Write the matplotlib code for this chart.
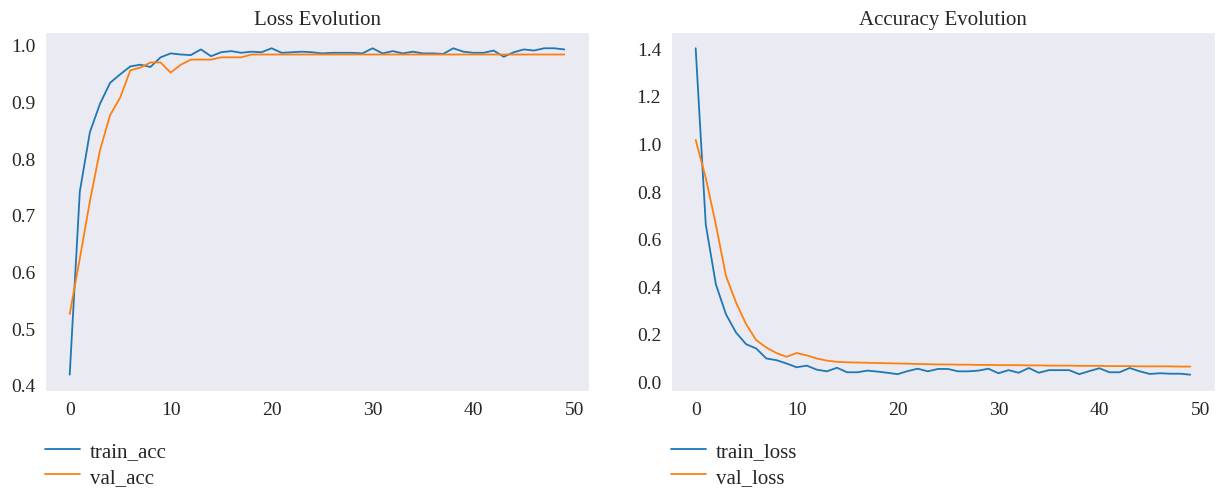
import matplotlib
matplotlib.use("Agg")
import matplotlib.pyplot as plt
import seaborn as sns

sns.set_style("dark")
plt.rcParams['font.family'] = ['Liberation Serif', 'DejaVu Serif']

# Training history (50 epochs)
epochs = list(range(50))

train_acc = [0.418, 0.741, 0.846, 0.896, 0.933, 0.948, 0.962, 0.965, 0.961, 0.978,
             0.985, 0.983, 0.982, 0.992, 0.980, 0.987, 0.989, 0.986, 0.988, 0.987,
             0.994, 0.986, 0.987, 0.988, 0.987, 0.985, 0.986, 0.986, 0.986, 0.985,
             0.994, 0.985, 0.989, 0.985, 0.988, 0.985, 0.985, 0.984, 0.994, 0.988,
             0.986, 0.986, 0.990, 0.979, 0.987, 0.992, 0.990, 0.994, 0.994, 0.992]

val_acc = [0.525, 0.623, 0.724, 0.814, 0.876, 0.907, 0.955, 0.960, 0.969, 0.969,
           0.951, 0.965, 0.974, 0.974, 0.974, 0.978, 0.978, 0.978, 0.983, 0.983,
           0.983, 0.983, 0.983, 0.983, 0.983, 0.983, 0.983, 0.983, 0.983, 0.983,
           0.983, 0.983, 0.983, 0.983, 0.983, 0.983, 0.983, 0.983, 0.983, 0.983,
           0.983, 0.983, 0.983, 0.983, 0.983, 0.983, 0.983, 0.983, 0.983, 0.983]

train_loss = [1.400, 0.659, 0.408, 0.282, 0.205, 0.156, 0.138, 0.096, 0.089, 0.075,
              0.059, 0.066, 0.049, 0.042, 0.057, 0.038, 0.038, 0.045, 0.041, 0.036,
              0.030, 0.043, 0.053, 0.042, 0.052, 0.052, 0.042, 0.042, 0.045, 0.053,
              0.034, 0.047, 0.036, 0.056, 0.036, 0.047, 0.047, 0.047, 0.030, 0.043,
              0.055, 0.038, 0.038, 0.056, 0.042, 0.031, 0.034, 0.032, 0.032, 0.028]

val_loss = [1.015, 0.855, 0.659, 0.443, 0.331, 0.240, 0.173, 0.142, 0.119, 0.103,
            0.119, 0.109, 0.096, 0.087, 0.082, 0.080, 0.079, 0.078, 0.077, 0.076,
            0.075, 0.074, 0.073, 0.072, 0.071, 0.071, 0.070, 0.070, 0.069, 0.069,
            0.068, 0.068, 0.068, 0.067, 0.067, 0.066, 0.066, 0.066, 0.065, 0.065,
            0.065, 0.064, 0.064, 0.064, 0.063, 0.063, 0.063, 0.063, 0.062, 0.062]

fig = plt.figure(figsize=(12.19, 4.89), dpi=100)
ax1 = fig.add_axes([0.0369, 0.1984, 0.4463, 0.7342])
ax2 = fig.add_axes([0.5504, 0.1984, 0.4463, 0.7342])

# Left panel: accuracy curves (titled "Loss Evolution" in the original)
ax1.plot(epochs, train_acc, color='#1f77b4', lw=1.3, label='train_acc')
ax1.plot(epochs, val_acc, color='#ff7f0e', lw=1.3, label='val_acc')
ax1.set_title('Loss Evolution', fontsize=15, pad=6)

# Right panel: loss curves
ax2.plot(epochs, train_loss, color='#1f77b4', lw=1.3, label='train_loss')
ax2.plot(epochs, val_loss, color='#ff7f0e', lw=1.3, label='val_loss')
ax2.set_title('Accuracy Evolution', fontsize=15, pad=6)

for ax in (ax1, ax2):
    ax.set_xticks([0, 10, 20, 30, 40, 50])
    ax.tick_params(labelsize=14)
    ax.legend(loc='upper left', bbox_to_anchor=(0, -0.14), frameon=False,
              borderaxespad=0, borderpad=0, fontsize=15,
              handlelength=1.7, handletextpad=0.45, labelspacing=0.3)

ax2.set_yticks([0.0, 0.2, 0.4, 0.6, 0.8, 1.0, 1.2, 1.4])

fig.savefig('out.png', dpi=100)
